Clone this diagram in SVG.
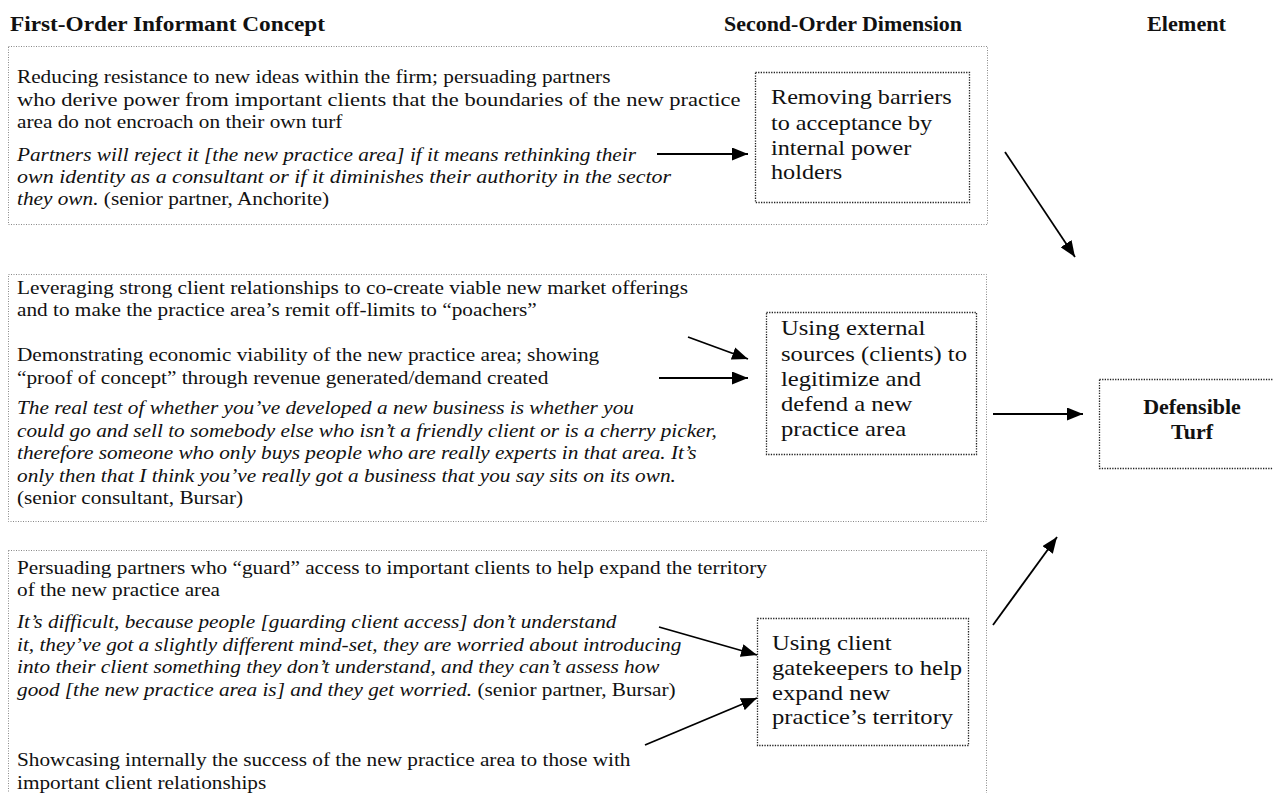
<svg xmlns="http://www.w3.org/2000/svg" width="1273" height="793" viewBox="0 0 1273 793">
<style>
text{font-family:"Liberation Serif","Times New Roman",serif;fill:#111}
.t{font-size:19px}
.i{font-size:19px;font-style:italic}
.it{font-style:italic}
.h{font-size:20px;font-weight:bold}
.n{font-size:22px}
.b{font-size:20px;font-weight:bold;text-anchor:middle}
.outer{fill:none;stroke:#888;stroke-width:1;stroke-dasharray:1 1.5}
.inner{fill:none;stroke:#222;stroke-width:1.3;stroke-dasharray:1.3 1.3}
.arr{stroke:#000;stroke-width:1.8;fill:none;marker-end:url(#ah)}
</style>
<defs>
<marker id="ah" markerUnits="userSpaceOnUse" markerWidth="17" markerHeight="13" refX="16" refY="6.5" orient="auto">
<path d="M0,0 L16,6.5 L0,13 z" fill="#000"/>
</marker>
</defs>
<rect width="1273" height="793" fill="#fff"/>

<g id="headers">
<text class="h" x="10" y="31" textLength="315" lengthAdjust="spacingAndGlyphs">First-Order Informant Concept</text>
<text class="h" x="724" y="31" textLength="238" lengthAdjust="spacingAndGlyphs">Second-Order Dimension</text>
<text class="h" x="1147" y="31" textLength="79" lengthAdjust="spacingAndGlyphs">Element</text>
</g>

<g id="group1">
<rect class="outer" x="8.5" y="46.5" width="979" height="178"/>
<g transform="translate(17 0) scale(1.12 1)">
<text class="t" x="0" y="83">Reducing resistance to new ideas within the firm; persuading partners</text>
<text class="t" x="0" y="106" textLength="646" lengthAdjust="spacingAndGlyphs">who derive power from important clients that the boundaries of the new practice</text>
<text class="t" x="0" y="128">area do not encroach on their own turf</text>
<text class="i" x="0" y="161">Partners will reject it [the new practice area] if it means rethinking their</text>
<text class="i" x="0" y="183" textLength="584" lengthAdjust="spacingAndGlyphs">own identity as a consultant or if it diminishes their authority in the sector</text>
<text class="t" x="0" y="205"><tspan class="it">they own.</tspan> (senior partner, Anchorite)</text>
</g>
</g>

<g id="node-removing-barriers">
<rect class="inner" x="755.5" y="72.5" width="214" height="130"/>
<g transform="translate(771 0) scale(1.1 1)">
<text class="n" x="0" y="104">Removing barriers</text>
<text class="n" x="0" y="130">to acceptance by</text>
<text class="n" x="0" y="155">internal power</text>
<text class="n" x="0" y="179">holders</text>
</g>
</g>

<g id="group2">
<rect class="outer" x="8.5" y="274.5" width="978" height="247"/>
<g transform="translate(17 0) scale(1.12 1)">
<text class="t" x="0" y="294">Leveraging strong client relationships to co-create viable new market offerings</text>
<text class="t" x="0" y="316">and to make the practice area’s remit off-limits to “poachers”</text>
<text class="t" x="0" y="361">Demonstrating economic viability of the new practice area; showing</text>
<text class="t" x="0" y="384">“proof of concept” through revenue generated/demand created</text>
<text class="i" x="0" y="414">The real test of whether you’ve developed a new business is whether you</text>
<text class="i" x="0" y="437">could go and sell to somebody else who isn’t a friendly client or is a cherry picker,</text>
<text class="i" x="0" y="459">therefore someone who only buys people who are really experts in that area. It’s</text>
<text class="i" x="0" y="482">only then that I think you’ve really got a business that you say sits on its own.</text>
<text class="t" x="0" y="504">(senior consultant, Bursar)</text>
</g>
</g>

<g id="node-using-external">
<rect class="inner" x="766.5" y="312.5" width="210" height="142"/>
<g transform="translate(781 0) scale(1.12 1)">
<text class="n" x="0" y="335">Using external</text>
<text class="n" x="0" y="361">sources (clients) to</text>
<text class="n" x="0" y="386">legitimize and</text>
<text class="n" x="0" y="411">defend a new</text>
<text class="n" x="0" y="436">practice area</text>
</g>
</g>

<g id="group3">
<rect class="outer" x="8.5" y="550.5" width="978" height="260"/>
<g transform="translate(17 0) scale(1.12 1)">
<text class="t" x="0" y="574">Persuading partners who “guard” access to important clients to help expand the territory</text>
<text class="t" x="0" y="596">of the new practice area</text>
<text class="i" x="0" y="628">It’s difficult, because people [guarding client access] don’t understand</text>
<text class="i" x="0" y="651">it, they’ve got a slightly different mind-set, they are worried about introducing</text>
<text class="i" x="0" y="673">into their client something they don’t understand, and they can’t assess how</text>
<text class="t" x="0" y="696"><tspan class="it">good [the new practice area is] and they get worried.</tspan> (senior partner, Bursar)</text>
<text class="t" x="0" y="766">Showcasing internally the success of the new practice area to those with</text>
<text class="t" x="0" y="789">important client relationships</text>
</g>
</g>

<g id="node-using-client">
<rect class="inner" x="757.5" y="618.5" width="211" height="127"/>
<g transform="translate(772 0) scale(1.12 1)">
<text class="n" x="0" y="650">Using client</text>
<text class="n" x="0" y="675">gatekeepers to help</text>
<text class="n" x="0" y="700">expand new</text>
<text class="n" x="0" y="724">practice’s territory</text>
</g>
</g>

<g id="node-defensible-turf">
<rect class="inner" x="1099.5" y="379.5" width="190" height="89"/>
<g transform="translate(1192 0) scale(1.1 1)">
<text class="b" x="0" y="414">Defensible</text>
<text class="b" x="0" y="439">Turf</text>
</g>
</g>

<g id="connectors">
<line class="arr" x1="657" y1="154" x2="748" y2="154"/>
<line class="arr" x1="688" y1="337" x2="748" y2="359"/>
<line class="arr" x1="659" y1="378" x2="748" y2="378"/>
<line class="arr" x1="659" y1="627" x2="757" y2="655"/>
<line class="arr" x1="645" y1="745" x2="757" y2="698"/>
<line class="arr" x1="993" y1="414" x2="1083" y2="414"/>
<line class="arr" x1="1005" y1="152" x2="1075" y2="257"/>
<line class="arr" x1="993" y1="625" x2="1057" y2="537"/>
</g>
</svg>
